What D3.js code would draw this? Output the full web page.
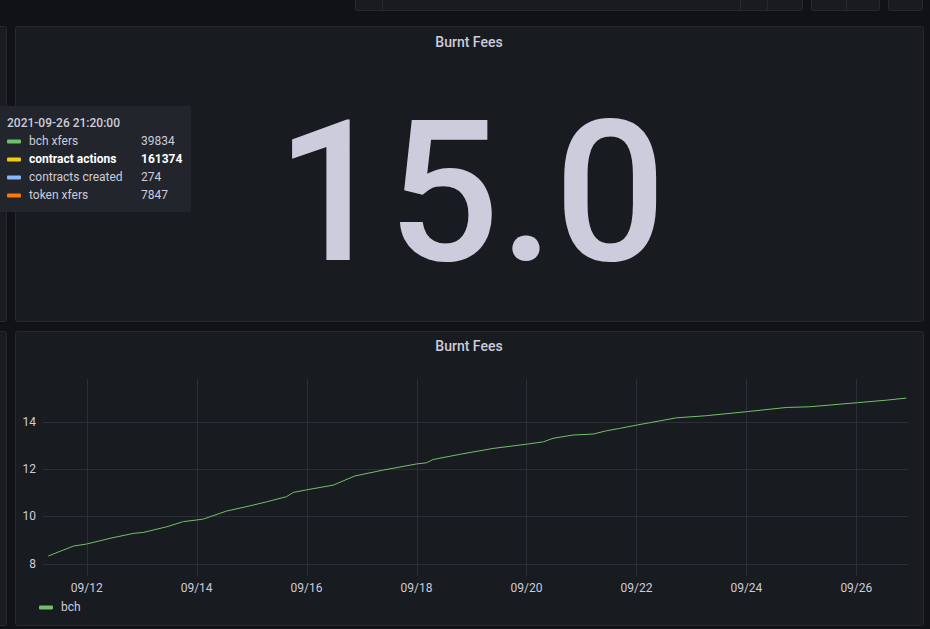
<!DOCTYPE html>
<html><head><meta charset="utf-8">
<script src="https://cdn.jsdelivr.net/npm/d3@7/dist/d3.min.js"></script>
<style>
html,body{margin:0;padding:0;background:#111217;overflow:hidden}
svg{display:block;font-family:Roboto,"Noto Sans",sans-serif}
</style></head><body>
<svg id="c" width="930" height="629"></svg>
<script>
// ---- data ----
const panelTitle = "Burnt Fees";
const statValue = 15.0;
const seriesName = "bch";
const times = ["2021-09-11 07:15","2021-09-11 18:10","2021-09-12 00:00","2021-09-12 10:10","2021-09-12 20:20",
"2021-09-13 00:40","2021-09-13 10:55","2021-09-13 18:10","2021-09-14 00:00","2021-09-14 03:00","2021-09-14 13:05",
"2021-09-14 23:15","2021-09-15 06:30","2021-09-15 15:15","2021-09-15 18:10","2021-09-16 00:00","2021-09-16 11:35",
"2021-09-16 21:05","2021-09-17 09:25","2021-09-18 00:00","2021-09-18 04:20","2021-09-18 07:15","2021-09-18 18:55",
"2021-09-19 09:25","2021-09-20 00:00","2021-09-20 07:25","2021-09-20 11:35","2021-09-20 20:20","2021-09-21 05:05",
"2021-09-21 10:55","2021-09-21 16:40","2021-09-22 00:00","2021-09-22 10:10","2021-09-22 17:25","2021-09-23 06:30",
"2021-09-24 00:00","2021-09-24 17:25","2021-09-25 03:40","2021-09-26 00:00","2021-09-26 13:05","2021-09-26 21:50"];
const values = [8.32,8.74,8.83,9.07,9.28,9.32,9.56,9.78,9.85,9.89,10.23,10.45,10.62,10.84,11.02,11.13,11.33,
11.72,11.97,12.23,12.28,12.42,12.64,12.89,13.07,13.17,13.32,13.46,13.50,13.64,13.74,13.88,14.06,14.19,14.28,
14.45,14.63,14.66,14.83,14.94,15.03];
const timeRange = ["2021-09-11 04:56","2021-09-26 22:33"];
const xTicks = ["2021-09-12 00:00","2021-09-14 00:00","2021-09-16 00:00","2021-09-18 00:00",
"2021-09-20 00:00","2021-09-22 00:00","2021-09-24 00:00","2021-09-26 00:00"];
const yTicks = [8,10,12,14];
const tooltipTime = "2021-09-26 21:20:00";
const tooltipNames = ["bch xfers","contract actions","contracts created","token xfers"];
const tooltipValues = [39834,161374,274,7847];
const tooltipColors = ["#73BF69","#F2CC0C","#8AB8FF","#FF780A"];
const tooltipBold = [false,true,false,false];

// ---- drawing ----
const svg = d3.select("#c");
const panelBg = "#181b1f", border = "#25282d", txt = "#ccccdc";
function panel(x,y,w,h){ svg.append("rect").attr("x",x+0.5).attr("y",y+0.5).attr("width",w).attr("height",h)
  .attr("rx",2).attr("fill",panelBg).attr("stroke",border); }

// toolbar boxes at top
panel(355,-6,447,16); panel(811,-6,68,16); panel(888,-6,34,16);
[[382,-6,10],[740,-6,10],[767,-6,10],[846,-6,10]].forEach(d=>svg.append("line").attr("x1",d[0]+0.5).attr("x2",d[0]+0.5)
  .attr("y1",d[1]).attr("y2",d[2]).attr("stroke",border));
// left partial panels
panel(-10,26,16,295); panel(-10,331,16,294);
// main panels
panel(15,26,908,295); panel(15,331,908,294);

// titles
[42,346].forEach(y=>svg.append("text").attr("x",469).attr("y",y+5).attr("text-anchor","middle")
  .attr("fill",txt).attr("font-size",14).attr("font-weight",500).text(panelTitle));

// stat
svg.append("text").attr("x",471).attr("y",260).attr("text-anchor","middle").attr("fill","#ccccdc")
  .attr("font-size",197).attr("font-weight",500).text(d3.format(".1f")(statValue));

// line chart
const parse = d3.utcParse("%Y-%m-%d %H:%M");
const data = times.map((t,i)=>({t:parse(t),v:values[i]}));
const x = d3.scaleUtc().domain(timeRange.map(parse)).range([43,908]);
const y = d3.scaleLinear().domain([7.47,15.84]).range([576,379]);
const grid = "#2b2e34";
const g = svg.append("g");
// horizontal grid
g.selectAll(".hg").data(yTicks).join("line").attr("x1",43).attr("x2",908)
  .attr("y1",d=>Math.round(y(d))+0.5).attr("y2",d=>Math.round(y(d))+0.5).attr("stroke",grid);
// vertical grid
const xt = xTicks.map(parse);
g.selectAll(".vg").data(xt).join("line").attr("y1",379).attr("y2",576)
  .attr("x1",d=>Math.round(x(d))+0.5).attr("x2",d=>Math.round(x(d))+0.5).attr("stroke",grid);
// y labels
g.selectAll(".yl").data(yTicks).join("text").attr("x",36).attr("y",d=>y(d)+4).attr("text-anchor","end")
  .attr("fill",txt).attr("font-size",12).text(d=>d);
// x labels
const fmt = d3.utcFormat("%m/%d");
g.selectAll(".xl").data(xt).join("text").attr("x",d=>x(d)).attr("y",592).attr("text-anchor","middle")
  .attr("fill",txt).attr("font-size",12).text(d=>fmt(d));
// line
g.append("path").datum(data).attr("fill","none").attr("stroke","#73BF69").attr("stroke-width",1)
  .attr("d",d3.line().x(d=>x(d.t)).y(d=>y(d.v)));
// legend
svg.append("rect").attr("x",39).attr("y",605.5).attr("width",14).attr("height",4).attr("rx",1).attr("fill","#73BF69");
svg.append("text").attr("x",61).attr("y",611).attr("fill",txt).attr("font-size",12).text(seriesName);

// tooltip
const tt = svg.append("g");
tt.append("rect").attr("x",-4).attr("y",106).attr("width",195).attr("height",106).attr("rx",2).attr("fill","#22252b");
tt.append("text").attr("x",7).attr("y",127).attr("fill",txt).attr("font-size",12).attr("font-weight",500).text(tooltipTime);
tooltipNames.forEach((n,i)=>{
  const yy = 141 + i*18;
  tt.append("rect").attr("x",7).attr("y",yy-1.5).attr("width",14).attr("height",4).attr("rx",1).attr("fill",tooltipColors[i]);
  tt.append("text").attr("x",29).attr("y",yy+4).attr("fill",tooltipBold[i]?"#ffffff":txt).attr("font-size",12)
    .attr("font-weight",tooltipBold[i]?700:400).text(n);
  tt.append("text").attr("x",141).attr("y",yy+4).attr("fill",tooltipBold[i]?"#ffffff":txt).attr("font-size",12)
    .attr("font-weight",tooltipBold[i]?700:400).text(tooltipValues[i]);
});
</script>
</body></html>
